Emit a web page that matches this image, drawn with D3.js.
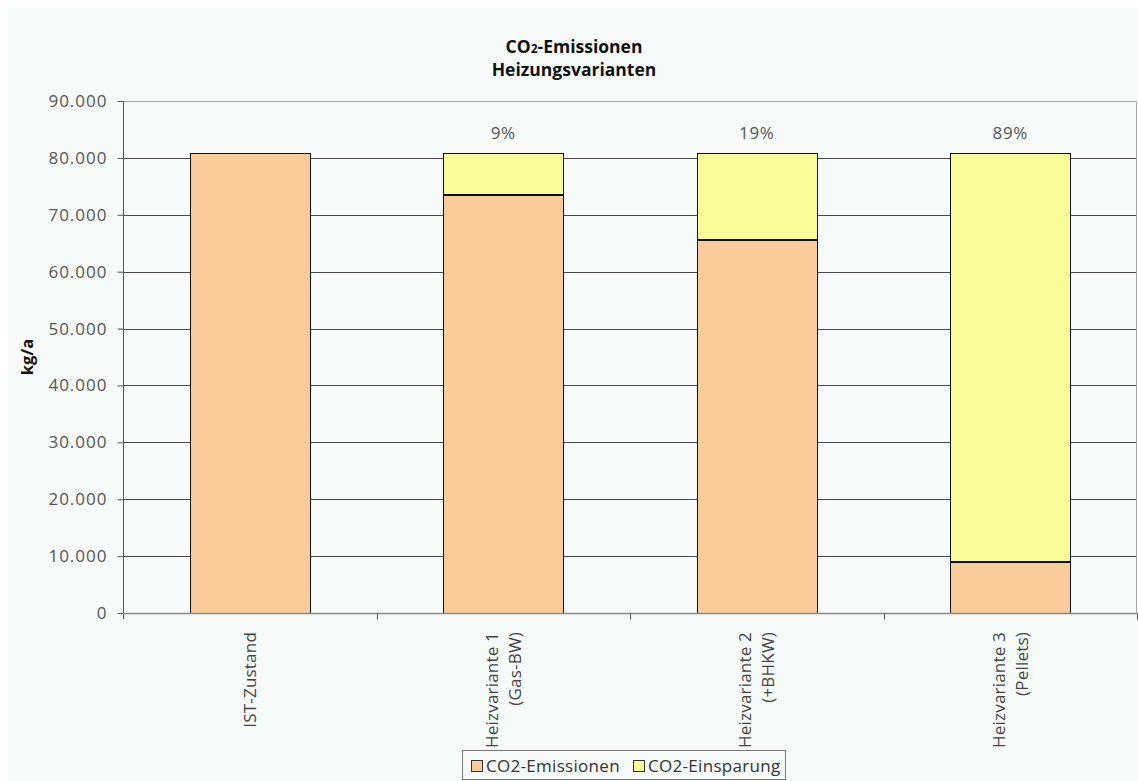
<!DOCTYPE html>
<html>
<head>
<meta charset="utf-8">
<script src="https://cdn.jsdelivr.net/npm/d3@7/dist/d3.min.js"></script>
<style>
  html, body { margin: 0; padding: 0; background: #ffffff; }
  svg { display: block; }
  text { font-family: "Open Sans", "Noto Sans", sans-serif; }
</style>
</head>
<body>
<svg id="chart" width="1138" height="781"></svg>
<script>
// Heating variants and their yearly CO2 figures (kg/a)
const categories = [
  ["IST-Zustand"],
  ["Heizvariante 1", "(Gas-BW)"],
  ["Heizvariante 2", "(+BHKW)"],
  ["Heizvariante 3", "(Pellets)"]
];
const emissions = [80800, 73500, 65500, 9000];
const savings   = [0, 7300, 15300, 71800];
const yTicks = [0, 10000, 20000, 30000, 40000, 50000, 60000, 70000, 80000, 90000];
const seriesNames = ["CO2-Emissionen", "CO2-Einsparung"];
const seriesColors = ["#F8CB98", "#F8FC98"];

const svg = d3.select("#chart");
const W = 1138, H = 781;

// chart area background
svg.append("rect").attr("x", 8).attr("y", 8).attr("width", W - 8).attr("height", H - 8)
  .attr("fill", "#F6FAF8");

const plot = { left: 123, right: 1137, top: 101, bottom: 613 };

const x = d3.scaleBand()
  .domain(d3.range(categories.length))
  .range([plot.left, plot.right])
  .paddingInner(0.527).paddingOuter(0.2635);
const xOuter = d3.scaleBand().domain(d3.range(categories.length)).range([plot.left, plot.right]);

const y = d3.scaleLinear().domain([0, 90000]).range([plot.bottom, plot.top]);

// gridlines
svg.append("g").selectAll("line").data(yTicks.filter(t => t > 0 && t < 90000)).join("line")
  .attr("x1", plot.left).attr("x2", plot.right)
  .attr("y1", d => Math.round(y(d)) + 0.5).attr("y2", d => Math.round(y(d)) + 0.5)
  .attr("stroke", "#4a4a4a").attr("stroke-width", 1);

// plot frame (top and right)
svg.append("path")
  .attr("d", `M${plot.left},${plot.top + 0.5}H${plot.right - 0.5}V${plot.bottom}`)
  .attr("fill", "none").attr("stroke", "#a8a8a8").attr("stroke-width", 1);

// stacked bars
const stack = categories.map((c, i) => ({ i, em: emissions[i], sv: savings[i] }));
const bars = svg.append("g");
bars.selectAll("rect.em").data(stack).join("rect")
  .attr("class", "em")
  .attr("x", d => Math.round(x(d.i)) + 0.5)
  .attr("width", Math.round(x.bandwidth()))
  .attr("y", d => Math.round(y(d.em)) + 0.5)
  .attr("height", d => Math.round(y(0)) - Math.round(y(d.em)))
  .attr("fill", seriesColors[0]).attr("stroke", "#111").attr("stroke-width", 1);
bars.selectAll("rect.sv").data(stack.filter(d => d.sv > 0)).join("rect")
  .attr("class", "sv")
  .attr("x", d => Math.round(x(d.i)) + 0.5)
  .attr("width", Math.round(x.bandwidth()))
  .attr("y", d => Math.round(y(d.em + d.sv)) + 0.5)
  .attr("height", d => Math.round(y(d.em)) - Math.round(y(d.em + d.sv)) - 1)
  .attr("fill", seriesColors[1]).attr("stroke", "#111").attr("stroke-width", 1);

// savings percentage labels
svg.append("g").selectAll("text").data(stack.filter(d => d.sv > 0)).join("text")
  .attr("x", d => x(d.i) + x.bandwidth() / 2)
  .attr("y", 139)
  .attr("text-anchor", "middle")
  .attr("font-size", 17).attr("letter-spacing", 0.6).attr("fill", "#555")
  .text(d => Math.round(100 * d.sv / (d.em + d.sv)) + "%");

// y axis
const fmt = v => v === 0 ? "0" : d3.format(",")(v).replace(/,/g, ".");
const yAxis = svg.append("g").attr("transform", `translate(${plot.left + 0.5},0)`)
  .call(d3.axisLeft(y).tickValues(yTicks).tickSize(6).tickPadding(10).tickFormat(fmt));
yAxis.select(".domain").attr("stroke", "#555").attr("d", `M0,${plot.top}V${plot.bottom + 6}`);
yAxis.selectAll(".tick line").attr("stroke", "#555");
yAxis.selectAll(".tick text").attr("font-size", 17).attr("letter-spacing", 1).attr("fill", "#555")
  .attr("font-family", "'Open Sans', 'Noto Sans', sans-serif");

// x axis with ticks at category boundaries
const xAxisG = svg.append("g").attr("transform", `translate(0,${plot.bottom + 0.5})`);
xAxisG.append("line").attr("x1", plot.left).attr("x2", plot.right)
  .attr("stroke", "#8a8a8a").attr("stroke-width", 1.5);
xAxisG.selectAll("line.tk").data(d3.range(1, categories.length + 1)).join("line")
  .attr("class", "tk")
  .attr("x1", d => Math.round(xOuter(d - 1) + xOuter.bandwidth()) + 0.5)
  .attr("x2", d => Math.round(xOuter(d - 1) + xOuter.bandwidth()) + 0.5)
  .attr("y1", 0).attr("y2", 6).attr("stroke", "#555");

// category labels, rotated
const lab = svg.append("g").selectAll("g").data(categories).join("g")
  .attr("transform", (d, i) => `translate(${x(i) + x.bandwidth() / 2},${plot.bottom + 19}) rotate(-90)`);
lab.each(function(lines) {
  const g = d3.select(this);
  const lh = 23;
  lines.forEach((t, k) => {
    g.append("text")
      .attr("x", 0)
      .attr("y", (k - (lines.length - 1) / 2) * lh)
      .attr("dy", "0.35em")
      .attr("text-anchor", "end")
      .attr("font-size", 17).attr("letter-spacing", 0.2).attr("fill", "#444")
      .text(t);
  });
});

// title
const title = svg.append("text").attr("x", 574).attr("y", 53)
  .attr("text-anchor", "middle").attr("font-size", 17.5).attr("font-weight", "bold").attr("fill", "#111");
title.append("tspan").text("CO");
title.append("tspan").attr("font-size", 12).text("2");
title.append("tspan").text("-Emissionen");
svg.append("text").attr("x", 574).attr("y", 76)
  .attr("text-anchor", "middle").attr("font-size", 17.5).attr("font-weight", "bold").attr("fill", "#111")
  .text("Heizungsvarianten");

// y axis title
svg.append("text")
  .attr("transform", `translate(33,357) rotate(-90)`)
  .attr("text-anchor", "middle").attr("font-size", 16.5).attr("font-weight", "bold").attr("fill", "#111")
  .text("kg/a");

// legend
const legend = svg.append("g").attr("transform", "translate(462,750)");
legend.append("rect").attr("x", 0.5).attr("y", 0.5).attr("width", 323).attr("height", 29)
  .attr("fill", "none").attr("stroke", "#777");
const items = [{ x: 9 }, { x: 171 }];
seriesNames.forEach((name, i) => {
  const it = legend.append("g").attr("transform", `translate(${items[i].x},0)`);
  it.append("rect").attr("x", 0.5).attr("y", 10.5).attr("width", 11).attr("height", 11)
    .attr("fill", seriesColors[i]).attr("stroke", "#333");
  it.append("text").attr("x", 15).attr("y", 16).attr("dy", "0.35em")
    .attr("font-size", 17).attr("letter-spacing", 0.3).attr("fill", "#333").text(name);
});
</script>
</body>
</html>
